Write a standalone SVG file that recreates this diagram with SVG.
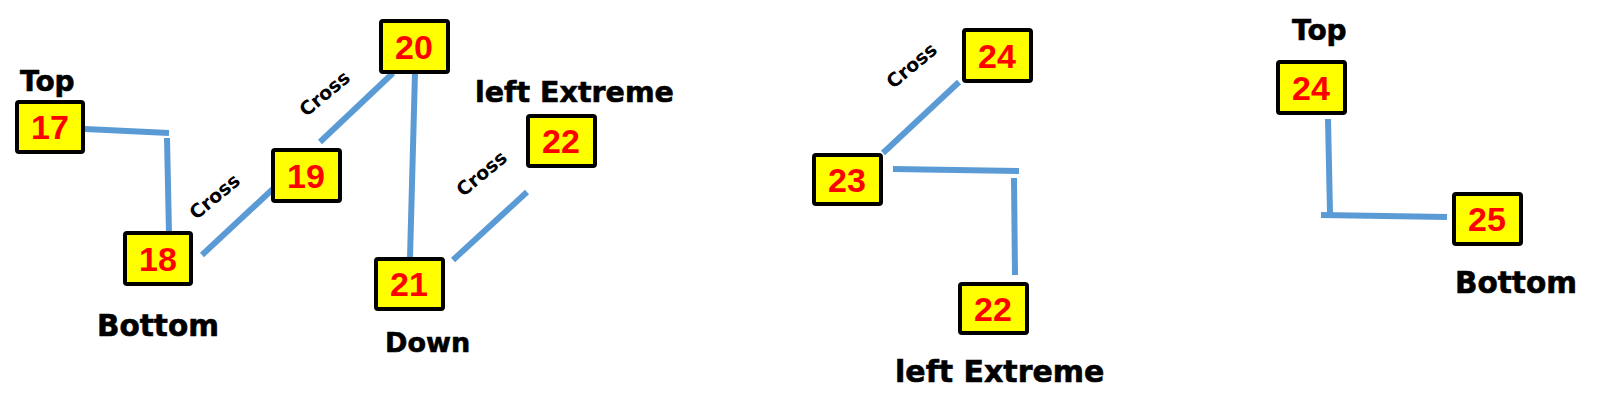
<svg xmlns="http://www.w3.org/2000/svg" width="1600" height="410" viewBox="0 0 1600 410">
<style>
.box{fill:#FFFF00;stroke:#000;stroke-width:4}
.num{font-family:"Liberation Sans",Arial,sans-serif;font-weight:bold;font-size:34px;fill:#FF0000;text-anchor:middle}
.lbl{font-family:"DejaVu Sans",sans-serif;font-weight:bold;fill:#000;stroke:#000;stroke-width:0.6}
.cross{font-family:"DejaVu Sans",sans-serif;font-weight:bold;font-size:19px;fill:#000;text-anchor:middle}
.con line{stroke:#5B9BD5;stroke-width:6;fill:none}
</style>
<rect width="1600" height="410" fill="#fff"/>
<g id="connectors" class="con">
<line x1="85" y1="129" x2="169" y2="133"/>
<line x1="167" y1="138" x2="169" y2="234"/>
<line x1="202" y1="255" x2="275" y2="187"/>
<line x1="320" y1="142" x2="393" y2="73"/>
<line x1="415" y1="73" x2="410" y2="258"/>
<line x1="453" y1="260" x2="527" y2="192"/>
<line x1="883" y1="153" x2="959" y2="82"/>
<line x1="893" y1="169" x2="1019" y2="171"/>
<line x1="1014" y1="178" x2="1015" y2="275"/>
<line x1="1328" y1="119" x2="1330" y2="213"/>
<line x1="1321" y1="215" x2="1447" y2="217"/>
</g>
<g id="labels">
<text class="lbl" x="20" y="91" font-size="28">Top</text>
<text class="lbl" x="97" y="336" font-size="29.5">Bottom</text>
<text class="lbl" x="385" y="352" font-size="27">Down</text>
<text class="lbl" x="475" y="102" font-size="28.5">left Extreme</text>
<text class="lbl" x="895" y="382" font-size="30">left Extreme</text>
<text class="lbl" x="1292" y="40" font-size="28">Top</text>
<text class="lbl" x="1455" y="293" font-size="29.5">Bottom</text>
<text class="cross" transform="translate(215,197) rotate(-40)" y="6">Cross</text>
<text class="cross" transform="translate(325,94) rotate(-40)" y="6">Cross</text>
<text class="cross" transform="translate(482,174) rotate(-40)" y="6">Cross</text>
<text class="cross" transform="translate(912,66) rotate(-40)" y="6">Cross</text>
</g>
<g id="n17"><rect class="box" x="17" y="102" width="66" height="50" rx="2"/><text class="num" x="50" y="139">17</text></g>
<g id="n18"><rect class="box" x="125" y="233" width="66" height="51" rx="2"/><text class="num" x="158" y="271">18</text></g>
<g id="n19"><rect class="box" x="273" y="150" width="67" height="51" rx="2"/><text class="num" x="306" y="188">19</text></g>
<g id="n20"><rect class="box" x="381" y="21" width="67" height="51" rx="2"/><text class="num" x="414" y="59">20</text></g>
<g id="n21"><rect class="box" x="376" y="259" width="67" height="50" rx="2"/><text class="num" x="409" y="296">21</text></g>
<g id="n22a"><rect class="box" x="528" y="116" width="67" height="50" rx="2"/><text class="num" x="561" y="153">22</text></g>
<g id="n24a"><rect class="box" x="964" y="30" width="67" height="51" rx="2"/><text class="num" x="997" y="68">24</text></g>
<g id="n23"><rect class="box" x="814" y="155" width="67" height="49" rx="2"/><text class="num" x="847" y="192">23</text></g>
<g id="n22b"><rect class="box" x="960" y="284" width="67" height="49" rx="2"/><text class="num" x="993" y="321">22</text></g>
<g id="n24b"><rect class="box" x="1278" y="62" width="67" height="51" rx="2"/><text class="num" x="1311" y="100">24</text></g>
<g id="n25"><rect class="box" x="1454" y="194" width="67" height="50" rx="2"/><text class="num" x="1487" y="231">25</text></g>
</svg>
